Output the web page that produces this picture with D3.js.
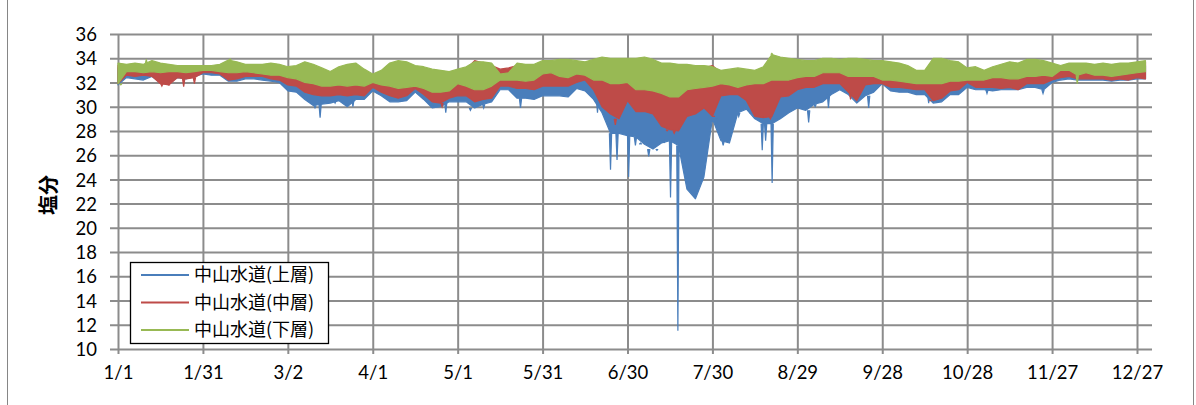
<!DOCTYPE html>
<html>
<head>
<meta charset="utf-8">
<script src="https://cdn.jsdelivr.net/npm/d3@7"></script>
<style>
  body { margin: 0; background: #fff; }
  #chart { display: block; width: 1196px; height: 405px; }
  .axis text { font-family: Lato, "Liberation Sans", sans-serif; font-size: 18.5px; fill: #000; }
  .legend text { font-family: "Noto Sans CJK JP", sans-serif; font-size: 18px; fill: #000; }
  .ylabel { font-family: "Noto Sans CJK JP", sans-serif; font-size: 20px; font-weight: bold; }
</style>
</head>
<body>
<svg id="chart" width="1196" height="405"></svg>
<script>
var svg = d3.select("#chart"),
    margin = {top: 34, right: 44, bottom: 56, left: 118},
    width = 1196 - margin.left - margin.right,
    height = 405 - margin.top - margin.bottom;

// x = day of year, one sample every 3 days (day 0 .. 363)
var sampleDays = d3.range(0, 364, 3);

var tickDays = [0, 30, 60, 90, 120, 150, 180, 210, 240, 270, 300, 330, 360];
var tickLabels = ["1/1", "1/31", "3/2", "4/1", "5/1", "5/31", "6/30", "7/30", "8/29", "9/28", "10/28", "11/27", "12/27"];
var yTicks = [10, 12, 14, 16, 18, 20, 22, 24, 26, 28, 30, 32, 34, 36];

var names = ["中山水道(上層)", "中山水道(中層)", "中山水道(下層)"];
var colors = ["#4a7ebb", "#be4b48", "#98b954"];

// upper layer (blue)
var upperHi = [
  33.2, 33.1, 33.2, 33.1, 33.3, 33.2, 33.1, 33.0, 33.0, 33.0,
  33.0, 33.0, 33.1, 33.3, 33.2, 33.1, 33.1, 33.1, 33.2, 33.1,
  32.8, 32.9, 33.2, 33.0, 32.7, 32.4, 32.8, 33.0, 33.1, 32.6,
  32.2, 32.5, 33.1, 33.3, 33.2, 32.9, 32.8, 32.6, 32.5, 32.4,
  32.6, 32.8, 33.5, 33.3, 33.1, 32.8, 32.9, 33.1, 33.0, 33.0,
  33.3, 33.3, 33.4, 33.4, 33.3, 33.2, 33.4, 33.6, 33.5, 33.5,
  33.5, 33.5, 33.6, 33.4, 33.1, 33.1, 33.0, 33.0, 32.9, 33.0,
  33.2, 32.5, 32.6, 32.7, 32.6, 32.5, 32.8, 33.6, 33.5, 33.4,
  33.3, 33.2, 33.2, 33.5, 33.5, 33.4, 33.5, 33.5, 33.4, 33.3,
  33.3, 33.2, 33.1, 32.9, 32.5, 32.5, 33.5, 33.5, 33.3, 33.2,
  32.7, 32.8, 32.5, 32.8, 33.0, 33.2, 33.1, 33.4, 33.4, 33.3,
  33.1, 33.0, 33.2, 33.2, 33.2, 33.1, 33.2, 33.1, 33.2, 33.2,
  33.3, 33.4
];
var upperLo = [
  31.8, 32.4, 32.3, 32.2, 32.5, 32.0, 32.0, 32.4, 32.3, 32.5,
  32.7, 32.6, 32.6, 32.1, 32.1, 32.3, 32.3, 32.2, 32.1, 32.0,
  31.3, 31.2, 30.6, 30.1, 30.2, 30.3, 30.5, 30.0, 30.6, 30.6,
  31.3, 30.9, 30.4, 30.4, 30.5, 31.2, 30.6, 29.9, 30.0, 30.4,
  30.4, 30.4, 29.9, 30.2, 30.4, 31.4, 31.4, 30.7, 30.7, 30.6,
  30.9, 30.9, 30.9, 30.8, 31.5, 31.3, 30.6, 29.5, 27.8, 27.8,
  27.6, 27.5, 26.9, 26.5, 27.0, 27.2, 26.8, 23.2, 22.4, 24.2,
  29.0, 27.2, 27.0, 29.5, 29.8, 29.0, 28.6, 28.6, 29.0, 29.5,
  29.9, 29.7, 30.2, 30.4, 31.0, 31.4, 31.0, 30.3, 30.9, 31.2,
  31.9, 31.3, 31.2, 31.2, 31.0, 31.0, 30.3, 30.4, 31.0, 31.0,
  31.6, 31.4, 31.4, 31.3, 31.4, 31.4, 31.4, 31.6, 31.6, 31.4,
  32.0, 32.2, 32.3, 32.2, 32.2, 32.2, 32.2, 32.1, 32.2, 32.2,
  32.3, 32.3
];
var upperSpikes = [
  [69.6, 29.9], [71.4, 29.1], [76.7, 30.3], [83, 30.0], [111, 30.3],
  [115.8, 29.5], [124.5, 29.7], [129.2, 29.9], [142.2, 29.9], [169.4, 29.5],
  [174, 24.8], [176.3, 25.6], [180.4, 24.2], [182.8, 26.8], [184.6, 27.0],
  [187.5, 25.9], [190.4, 26.4], [192.8, 27.2], [195.2, 22.5], [197.8, 11.5],
  [211.4, 28.6], [213.8, 26.8], [219.3, 29.2], [223.4, 29.4], [227.6, 26.4],
  [228.8, 27.2], [231.1, 23.7], [232.8, 28.9], [244, 28.7], [246.3, 30.0],
  [251, 29.9], [265.2, 29.9], [286.4, 30.3], [307, 31.1], [326.8, 31.1]
];

// middle layer (red)
var middleHi = [
  33.4, 33.3, 33.4, 33.3, 33.6, 33.4, 33.3, 33.2, 33.2, 33.2,
  33.2, 33.2, 33.3, 33.6, 33.5, 33.3, 33.3, 33.3, 33.4, 33.3,
  33.1, 33.2, 33.5, 33.3, 33.0, 32.7, 33.1, 33.3, 33.4, 32.9,
  32.5, 32.8, 33.4, 33.6, 33.5, 33.2, 33.1, 32.9, 32.8, 32.7,
  32.9, 33.1, 33.8, 33.6, 33.4, 33.1, 33.2, 33.4, 33.3, 33.3,
  33.6, 33.6, 33.7, 33.7, 33.6, 33.5, 33.7, 33.9, 33.8, 33.8,
  33.8, 33.8, 33.9, 33.7, 33.4, 33.4, 33.3, 33.3, 33.2, 33.2,
  33.4, 32.8, 32.9, 33.0, 32.9, 32.8, 33.1, 34.0, 33.9, 33.8,
  33.7, 33.6, 33.6, 33.8, 33.8, 33.7, 33.8, 33.8, 33.7, 33.6,
  33.6, 33.5, 33.4, 33.2, 32.8, 32.8, 33.8, 33.8, 33.6, 33.5,
  33.0, 33.1, 32.8, 33.1, 33.3, 33.5, 33.4, 33.7, 33.7, 33.6,
  33.4, 33.3, 33.5, 33.5, 33.5, 33.4, 33.5, 33.4, 33.5, 33.5,
  33.6, 33.7
];
var middleLo = [
  31.9, 32.6, 32.5, 32.6, 32.5, 31.9, 31.8, 32.4, 32.3, 32.4,
  32.8, 32.8, 32.7, 32.2, 32.3, 32.5, 32.5, 32.5, 32.3, 32.2,
  31.8, 31.7, 31.2, 31.0, 30.9, 30.9, 31.0, 30.9, 31.0, 30.9,
  31.6, 31.2, 30.9, 30.7, 30.9, 31.5, 31.0, 30.4, 30.3, 30.7,
  30.9, 30.9, 30.4, 30.6, 30.7, 31.7, 31.7, 31.5, 31.5, 31.4,
  31.7, 31.7, 31.7, 31.7, 32.0, 32.2, 31.4, 30.0, 29.4, 29.0,
  30.5, 29.6, 29.6, 29.4, 28.4, 28.1, 28.0, 29.2, 29.4, 29.9,
  29.2, 30.9, 31.0, 31.0, 30.5, 29.2, 29.1, 29.2, 30.8, 30.9,
  31.4, 31.6, 31.6, 31.9, 31.9, 31.9, 31.2, 30.5, 31.8, 31.9,
  31.9, 31.6, 31.6, 31.5, 31.4, 31.4, 30.5, 30.7, 31.3, 31.4,
  32.0, 31.6, 31.6, 31.6, 31.5, 31.6, 31.4, 31.9, 31.9, 31.9,
  32.2, 32.4, 32.5, 32.3, 32.3, 32.3, 32.3, 32.2, 32.3, 32.2,
  32.4, 32.3
];
var middleSpikes = [
  [15.5, 31.7], [18, 31.8], [23.2, 31.65], [27, 31.9], [114.5, 30.0],
  [175.7, 28.5], [194, 28.0], [196.5, 27.8], [210.5, 29.2], [227.6, 29.2],
  [230.5, 29.0], [258.8, 30.6], [287, 30.5]
];

// lower layer (green)
var lowerHi = [
  33.6, 33.5, 33.6, 33.5, 33.8, 33.6, 33.5, 33.4, 33.4, 33.4,
  33.4, 33.4, 33.5, 33.85, 33.7, 33.5, 33.5, 33.5, 33.6, 33.5,
  33.3, 33.4, 33.7, 33.5, 33.2, 32.9, 33.3, 33.5, 33.6, 33.1,
  32.7, 33.0, 33.6, 33.8, 33.7, 33.4, 33.3, 33.1, 33.0, 32.9,
  33.1, 33.3, 33.7, 33.7, 33.6, 32.7, 32.8, 33.6, 33.5, 33.5,
  33.8, 33.8, 33.9, 33.9, 33.8, 33.7, 33.9, 34.1, 34.0, 34.0,
  34.0, 34.0, 34.1, 33.9, 33.6, 33.6, 33.5, 33.5, 33.4, 33.4,
  33.3, 33.0, 33.1, 33.2, 33.1, 33.0, 33.3, 34.3, 34.1, 34.0,
  33.9, 33.8, 33.8, 34.0, 34.0, 33.9, 34.0, 34.0, 33.9, 33.8,
  33.8, 33.7, 33.6, 33.4, 33.0, 33.0, 34.0, 34.0, 33.8, 33.7,
  33.2, 33.3, 33.0, 33.3, 33.5, 33.7, 33.6, 33.9, 33.9, 33.8,
  33.6, 33.4, 33.6, 33.6, 33.6, 33.5, 33.6, 33.5, 33.6, 33.6,
  33.7, 33.8
];
var lowerLo = [
  31.9, 32.9, 32.9, 32.8, 32.9, 32.8, 32.9, 32.9, 32.8, 32.9,
  33.0, 33.0, 32.9, 32.8, 32.8, 32.9, 32.8, 32.7, 32.6, 32.6,
  32.4, 32.3, 32.0, 31.9, 31.7, 31.7, 31.8, 31.7, 31.8, 31.7,
  32.0, 31.8, 31.7, 31.5, 31.6, 31.7, 31.5, 31.2, 31.2, 31.3,
  31.9, 31.7, 31.4, 31.4, 31.7, 32.2, 32.2, 32.2, 32.1, 32.2,
  32.7, 32.8, 32.5, 32.4, 32.7, 32.6, 32.2, 32.2, 31.9, 31.9,
  32.0, 31.4, 31.4, 31.3, 31.1, 30.8, 30.8, 31.4, 31.5, 31.6,
  31.7, 31.9, 31.8, 31.6, 31.8, 31.9, 31.9, 32.2, 32.2, 32.2,
  32.4, 32.5, 32.5, 32.8, 32.8, 32.8, 32.5, 32.5, 32.5, 32.5,
  32.2, 32.2, 32.1, 32.0, 31.9, 31.9, 31.9, 31.9, 32.1, 32.1,
  32.2, 32.2, 32.2, 32.4, 32.4, 32.3, 32.3, 32.5, 32.5, 32.6,
  32.5, 33.0, 33.0, 32.6, 32.8, 32.6, 32.6, 32.5, 32.6, 32.7,
  32.8, 32.9
];
var lowerSpikes = [[1, 31.8], [10, 33.9], [39.6, 33.95], [231, 34.4], [338.9, 31.9]];

var series = [
  {name: names[0], color: colors[0], hi: upperHi, lo: upperLo, spikes: upperSpikes},
  {name: names[1], color: colors[1], hi: middleHi, lo: middleLo, spikes: middleSpikes},
  {name: names[2], color: colors[2], hi: lowerHi, lo: lowerLo, spikes: lowerSpikes}
];

var xScale = d3.scaleLinear().domain([0, 365.3]).range([0, width]),
    yScale = d3.scaleLinear().domain([10, 36]).range([height, 0]);

// chart frame
svg.append("rect")
    .attr("x", 7.5).attr("y", -5)
    .attr("width", 1186).attr("height", 420)
    .attr("fill", "#fff")
    .attr("stroke", "#868686");

var g = svg.append("g").attr("transform", "translate(" + margin.left + "," + margin.top + ")");

// axes + gridlines
var yAxis = d3.axisLeft(yScale).tickValues(yTicks).tickFormat(d3.format("d"));
var xAxis = d3.axisBottom(xScale).tickValues(tickDays).tickFormat(function(d, i) { return tickLabels[i]; });

g.append("g")
    .attr("class", "axis axis--y")
    .call(yAxis)
    .call(function(a) {
      a.select(".domain").remove();
      a.selectAll(".tick line").attr("x1", -8).attr("x2", width).attr("stroke", "#8c8c8c").attr("stroke-width", 2);
      a.selectAll(".tick text").attr("x", -21).attr("dy", "0.36em");
    });

g.append("g")
    .attr("class", "axis axis--x")
    .attr("transform", "translate(0," + height + ")")
    .call(xAxis)
    .call(function(a) {
      a.select(".domain").remove();
      a.selectAll(".tick line").attr("y1", -height).attr("y2", 5).attr("stroke", "#8c8c8c").attr("stroke-width", 2);
      a.selectAll(".tick text").attr("y", 23).attr("dy", "0.36em");
    });

// data
var area = d3.area()
    .x(function(d, i) { return xScale(sampleDays[i]); })
    .y0(function(d) { return yScale(d[1]); })
    .y1(function(d) { return yScale(d[0]); });

var spikeLine = d3.line()
    .x(function(d) { return xScale(d[0]); })
    .y(function(d) { return yScale(d[1]); });

var layer = g.selectAll(".layer")
  .data(series)
  .enter().append("g")
    .attr("class", "layer");

layer.append("path")
    .attr("d", function(s) { return area(s.hi.map(function(h, i) { return [h, s.lo[i]]; })); })
    .attr("fill", function(s) { return s.color; })
    .attr("stroke", function(s) { return s.color; })
    .attr("stroke-width", 1.2)
    .attr("stroke-linejoin", "round");

// single readings sticking out of the band
layer.selectAll(".spike")
  .data(function(s) {
    return s.spikes.map(function(p) {
      var k = Math.round(p[0] / 3);
      var base = p[1] > s.hi[k] ? s.hi[k] : s.lo[k];
      return {color: s.color, pts: [[p[0] - 0.4, base], [p[0], p[1]], [p[0] + 0.4, base]]};
    });
  })
  .enter().append("path")
    .attr("class", "spike")
    .attr("d", function(d) { return spikeLine(d.pts); })
    .attr("fill", function(d) { return d.color; })
    .attr("stroke", function(d) { return d.color; })
    .attr("stroke-width", 1.2);

// y label
svg.append("text")
    .attr("class", "ylabel")
    .attr("transform", "translate(56,195) rotate(-90)")
    .attr("text-anchor", "middle")
    .text("塩分");

// legend
var legend = svg.append("g").attr("class", "legend").attr("transform", "translate(130,262)");
legend.append("rect")
    .attr("x", 0.5).attr("y", 0.5)
    .attr("width", 198).attr("height", 81)
    .attr("fill", "#fff").attr("stroke", "#000").attr("stroke-width", 1.3);

var item = legend.selectAll(".item")
  .data(series)
  .enter().append("g")
    .attr("class", "item")
    .attr("transform", function(d, i) { return "translate(0," + (13 + i * 27.5) + ")"; });

item.append("line")
    .attr("x1", 11).attr("x2", 59)
    .attr("stroke", function(d) { return d.color; })
    .attr("stroke-width", 2);

item.append("text")
    .attr("x", 64)
    .attr("dy", "0.36em")
    .text(function(d) { return d.name; });
</script>
</body>
</html>
